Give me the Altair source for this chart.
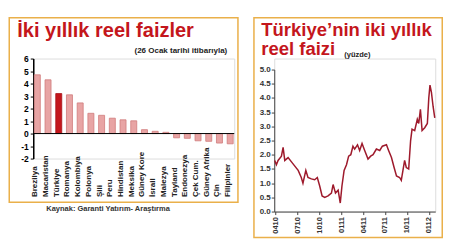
import altair as alt
import pandas as pd

# ---------------- data: left panel ----------------
countries = ["Brezilya", "Macaristan", "Türkiye", "Romanya", "Kolombiya", "Polonya",
             "Şili", "Peru", "Hindistan", "Meksika", "Güney Kore", "İsrail", "Malezya",
             "Tayland", "Endonezya", "Çek Cum.", "Güney Afrika", "Çin", "Filipinler"]
real_rates = [4.7, 4.3, 3.2, 3.1, 2.45, 1.62, 1.46, 1.23, 1.1, 1.02, 0.31, 0.18, 0.1,
              -0.34, -0.38, -0.58, -0.62, -0.76, -0.82]
highlight = "Türkiye"
left_ticks = [-2, -1, 0, 1, 2, 3, 4, 5, 6]

# ---------------- data: right panel ----------------
tr_dates = ["2010-03-28", "2010-04-04", "2010-04-11", "2010-04-25", "2010-05-02", "2010-05-09",
            "2010-05-23", "2010-06-06", "2010-06-20", "2010-07-04", "2010-07-17", "2010-07-24",
            "2010-08-05", "2010-08-14", "2010-08-28", "2010-09-11", "2010-09-22", "2010-10-02",
            "2010-10-12", "2010-10-23", "2010-11-06", "2010-11-20", "2010-11-27", "2010-12-07",
            "2010-12-18", "2010-12-27", "2011-01-03", "2011-01-12", "2011-01-22", "2011-01-31",
            "2011-02-09", "2011-02-18", "2011-02-25", "2011-03-09", "2011-03-18", "2011-03-28",
            "2011-04-08", "2011-04-22", "2011-05-03", "2011-05-13", "2011-05-27", "2011-06-10",
            "2011-06-21", "2011-07-08", "2011-07-17", "2011-07-29", "2011-08-09", "2011-08-19",
            "2011-09-01", "2011-09-08", "2011-09-15", "2011-09-22", "2011-09-29", "2011-10-09",
            "2011-10-17", "2011-10-23", "2011-11-03", "2011-11-14", "2011-11-20", "2011-11-27",
            "2011-12-04", "2011-12-15", "2011-12-26", "2012-01-01", "2012-01-06", "2012-01-12",
            "2012-01-19", "2012-01-26"]
tr_rates = [1.8, 1.65, 1.8, 1.95, 2.26, 1.8, 1.9, 1.75, 1.6, 1.45, 1.2, 1.0,
            1.45, 1.2, 1.15, 1.12, 1.2, 0.9, 0.55, 0.5, 0.55, 0.65, 0.95, 0.65,
            0.75, 0.3, 0.9, 1.45, 1.65, 1.95, 2.0, 2.3, 2.2, 2.35, 2.15, 2.4,
            2.15, 1.85, 1.95, 2.0, 2.2, 2.15, 2.3, 2.35, 2.15, 1.9, 1.55, 1.25,
            1.2, 1.1, 1.45, 1.8, 1.55, 1.5, 2.5, 2.9, 2.85, 3.25, 3.1, 3.6,
            2.85, 2.95, 3.1, 4.0, 4.45, 4.2, 3.7, 3.3]
right_ticks = [0.0, 0.5, 1.0, 1.5, 2.0, 2.5, 3.0, 3.5, 4.0, 4.5, 5.0]
quarter_ticks = [(2010, 4), (2010, 7), (2010, 10), (2011, 1), (2011, 4), (2011, 7),
                 (2011, 10), (2012, 1)]

FONT = "Liberation Sans"
RED = "#c4161c"
GOLD = "#eab04a"

left_df = pd.DataFrame({
    "country": countries,
    "rate": real_rates,
    "kind": ["hl" if c == highlight else "other" for c in countries],
})
right_df = pd.DataFrame({"date": [d + "T00:00:00" for d in tr_dates], "rate": tr_rates})

one = alt.Data(values=[{}])

# ---------------- left panel ----------------
left_y_axis = alt.Axis(title=None, values=left_ticks, grid=False, domainColor="black",
                       domainWidth=1.5, tickColor="black", tickSize=3, tickWidth=1,
                       labelFontWeight="bold", labelFontSize=8.5, labelColor="black",
                       labelPadding=2, labelFont=FONT,
                       labelExpr="datum.value < 0 ? '-' + abs(datum.value) : '' + datum.value")
left_y_scale = alt.Scale(domain=[-2, 6], nice=False)

bars = alt.Chart(left_df).mark_bar(strokeWidth=0.8).encode(
    x=alt.X("country:N", sort=countries,
            scale=alt.Scale(paddingInner=0.44, paddingOuter=0.1),
            axis=alt.Axis(title=None, labelAngle=-90, labelAlign="left",
                          labelBaseline="alphabetic", labelPadding=38, ticks=False,
                          tickSize=0, domain=False, labelFontSize=8,
                          labelFontWeight="bold", labelColor="#222", labelFont=FONT)),
    y=alt.Y("rate:Q", scale=left_y_scale, axis=left_y_axis),
    fill=alt.Fill("kind:N", scale=alt.Scale(domain=["other", "hl"],
                                            range=["#e8a4a4", RED]), legend=None),
    stroke=alt.Stroke("kind:N", scale=alt.Scale(domain=["other", "hl"],
                                                range=["#d07c7c", "#a81218"]), legend=None),
)

zero_rule = alt.Chart(alt.Data(values=[{"rate": 0}])).mark_rule(
    color="black", strokeWidth=1).encode(
    y=alt.Y("rate:Q", scale=left_y_scale, axis=left_y_axis))

left_frame = alt.Chart(one).mark_rect(fillOpacity=0, stroke=GOLD, strokeWidth=1.5).encode(
    x=alt.value(-24), x2=alt.value(204.7), y=alt.value(-40.7), y2=alt.value(143.7))

left_title = alt.Chart(one).mark_text(
    text="İki yıllık reel faizler", align="left", baseline="alphabetic", fontSize=20,
    fontWeight="bold", color=RED, font=FONT).encode(x=alt.value(-16), y=alt.value(-22))

left_sub = alt.Chart(one).mark_text(
    text="(26 Ocak tarihi itibarıyla)", align="right", baseline="alphabetic", fontSize=8,
    fontWeight="bold", color="#222", font=FONT).encode(x=alt.value(194), y=alt.value(-6))

source = alt.Chart(one).mark_text(
    text="Kaynak: Garanti Yatırım- Araştırma", align="left", baseline="alphabetic",
    fontSize=7.5, fontWeight="bold", color="#333", font=FONT).encode(
    x=alt.value(13), y=alt.value(152))

left = alt.layer(left_frame, bars, zero_rule, left_title, left_sub, source).properties(
    width=201, height=100)

# ---------------- right panel ----------------
line = alt.Chart(right_df).mark_line(color="#9e1a2c", strokeWidth=1.5).encode(
    x=alt.X("date:T",
            scale=alt.Scale(domain=[alt.DateTime(year=2010, month=3, date=26),
                                    alt.DateTime(year=2012, month=1, date=28)]),
            axis=alt.Axis(title=None, format="%m%y", labelAngle=-90, grid=False,
                          values=[alt.DateTime(year=y, month=m, date=1)
                                  for y, m in quarter_ticks],
                          labelFontSize=7.5, labelFontWeight="bold", labelColor="#333",
                          labelFont=FONT, tickSize=3, tickColor="#444",
                          domainColor="#444", labelPadding=2, labelOverlap=False,
                          labelFlush=False)),
    y=alt.Y("rate:Q", scale=alt.Scale(domain=[0, 5], nice=False, range=[153, 11]),
            axis=alt.Axis(title=None, values=right_ticks, format=".1f", grid=False,
                          labelFontSize=8, labelFontWeight="bold", labelColor="#333",
                          labelFont=FONT, tickSize=3, tickColor="#444",
                          domainColor="#444", labelPadding=1, labelFlush=False)),
)

right_frame = alt.Chart(one).mark_rect(fillOpacity=0, stroke=GOLD, strokeWidth=1.5).encode(
    x=alt.value(-20.3), x2=alt.value(168), y=alt.value(-40.7), y2=alt.value(179))

right_t1 = alt.Chart(one).mark_text(
    text="Türkiye’nin iki yıllık", align="left", baseline="alphabetic", fontSize=18.5,
    fontWeight="bold", color=RED, font=FONT).encode(x=alt.value(-13), y=alt.value(-23))

right_t2 = alt.Chart(one).mark_text(
    text="reel faizi", align="left", baseline="alphabetic", fontSize=18.5,
    fontWeight="bold", color=RED, font=FONT).encode(x=alt.value(-13), y=alt.value(-4))

right_unit = alt.Chart(one).mark_text(
    text="(yüzde)", align="left", baseline="alphabetic", fontSize=7.5,
    fontWeight="bold", color="#222", font=FONT).encode(x=alt.value(70), y=alt.value(-2))

right = alt.layer(right_frame, line, right_t1, right_t2, right_unit).properties(
    width=161, height=153)

chart = alt.hconcat(left, right, spacing=40, bounds="flush").properties(
    padding={"left": 7.25, "top": 16.55, "right": 0, "bottom": 0},
    background="white",
).configure_view(stroke=None).configure(font=FONT)

chart.save("out.html", embed_options={"renderer": "svg", "actions": False})
